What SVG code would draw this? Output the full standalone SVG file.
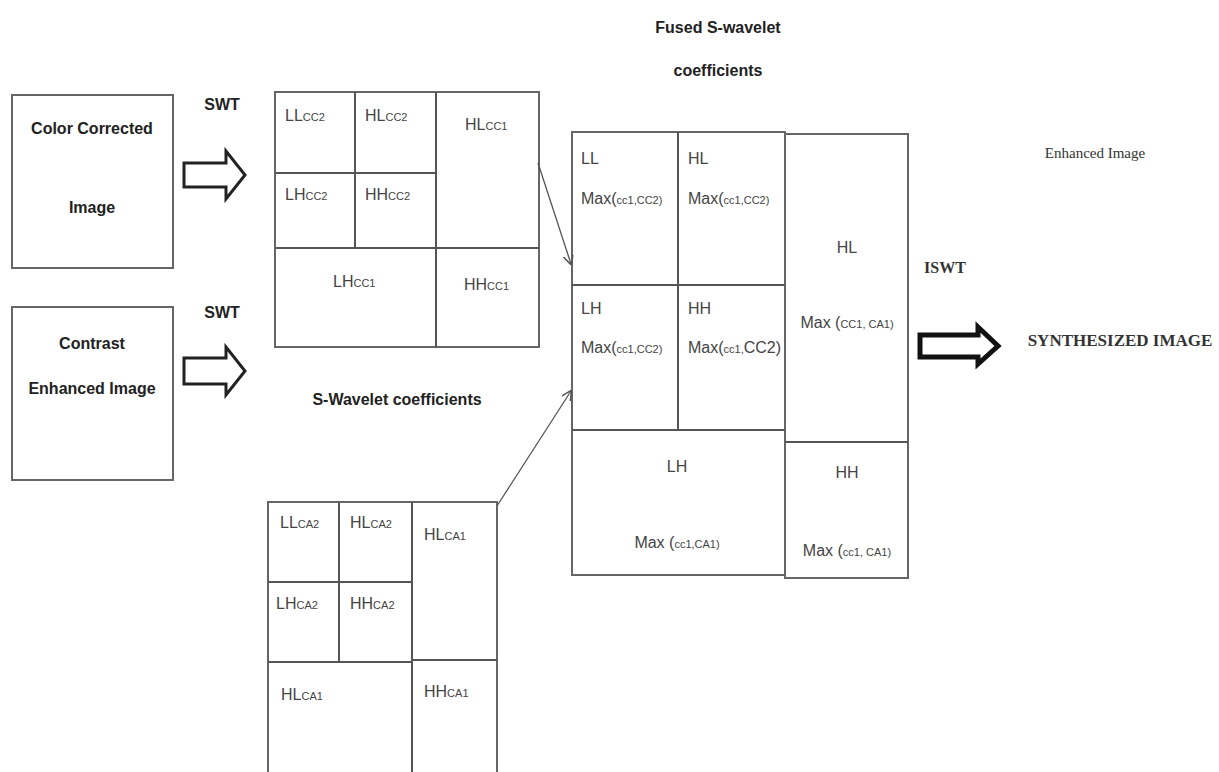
<svg xmlns="http://www.w3.org/2000/svg" width="1219" height="772" viewBox="0 0 1219 772">
<style>
.box{fill:#fff;stroke:#666;stroke-width:2}
.ln{stroke:#555;stroke-width:2;fill:none}
.t{font-family:"Liberation Sans",Arial,sans-serif;fill:#444;font-size:16px}
.s{font-size:11px}
.b{font-family:"Liberation Sans",Arial,sans-serif;font-weight:bold;fill:#222;font-size:16px}
.sf{font-family:"Liberation Serif","Times New Roman",serif;fill:#333}
.blk{fill:#fff;stroke:#222;stroke-width:3}
.conn{stroke:#555;stroke-width:1.3;fill:none}
</style>
<defs>
<marker id="ah" viewBox="0 0 10 10" refX="9" refY="5" markerWidth="8" markerHeight="8" orient="auto">
<path d="M0,0 L10,5 L0,10" fill="none" stroke="#555" stroke-width="1.5"/>
</marker>
</defs>
<rect width="1219" height="772" fill="#fff"/>

<g id="input-color">
<rect class="box" x="12" y="95" width="161" height="173"/>
<text class="b" x="92" y="134" text-anchor="middle">Color Corrected</text>
<text class="b" x="92" y="213" text-anchor="middle">Image</text>
</g>
<g id="input-contrast">
<rect class="box" x="12" y="307" width="161" height="173"/>
<text class="b" x="92" y="349" text-anchor="middle">Contrast</text>
<text class="b" x="92" y="394" text-anchor="middle">Enhanced Image</text>
</g>

<g id="swt1">
<text class="b" x="222" y="110" text-anchor="middle">SWT</text>
<path class="blk" d="M184,163 H226 V151 L245,175 L226,199 V187 H184 Z"/>
</g>
<g id="swt2">
<text class="b" x="222" y="318" text-anchor="middle">SWT</text>
<path class="blk" d="M184,358 H226 V347 L245,371 L226,395 V384 H184 Z"/>
</g>

<g id="grid-cc">
<rect class="box" x="275" y="92" width="264" height="255"/>
<path class="ln" d="M355,92 V248 M436,92 V347 M275,173 H436 M275,248 H539"/>
<text class="t" x="285" y="121">LL<tspan class="s">CC2</tspan></text>
<text class="t" x="365" y="121">HL<tspan class="s">CC2</tspan></text>
<text class="t" x="465" y="130">HL<tspan class="s">CC1</tspan></text>
<text class="t" x="285" y="200">LH<tspan class="s">CC2</tspan></text>
<text class="t" x="365" y="200">HH<tspan class="s">CC2</tspan></text>
<text class="t" x="333" y="287">LH<tspan class="s">CC1</tspan></text>
<text class="t" x="464" y="290">HH<tspan class="s">CC1</tspan></text>
</g>
<text class="b" x="397" y="405" text-anchor="middle">S-Wavelet coefficients</text>

<g id="grid-ca">
<rect class="box" x="268" y="502" width="229" height="275"/>
<path class="ln" d="M339,502 V662 M412,502 V777 M268,582 H412 M268,662 H412 M412,660 H497"/>
<text class="t" x="280" y="528">LL<tspan class="s">CA2</tspan></text>
<text class="t" x="350" y="528">HL<tspan class="s">CA2</tspan></text>
<text class="t" x="424" y="540">HL<tspan class="s">CA1</tspan></text>
<text class="t" x="276" y="609">LH<tspan class="s">CA2</tspan></text>
<text class="t" x="350" y="609">HH<tspan class="s">CA2</tspan></text>
<text class="t" x="281" y="700">HL<tspan class="s">CA1</tspan></text>
<text class="t" x="424" y="697">HH<tspan class="s">CA1</tspan></text>
</g>

<text class="b" x="718" y="33" text-anchor="middle">Fused S-wavelet</text>
<text class="b" x="718" y="76" text-anchor="middle">coefficients</text>

<g id="grid-fused">
<rect class="box" x="572" y="132" width="213" height="443"/>
<rect class="box" x="785" y="134" width="123" height="444"/>
<path class="ln" d="M678,132 V430 M572,285 H785 M572,430 H785 M785,442 H908"/>
<text class="t" x="581" y="164">LL</text>
<text class="t" x="581" y="204">Max(<tspan class="s">cc1,CC2)</tspan></text>
<text class="t" x="688" y="164">HL</text>
<text class="t" x="688" y="204">Max(<tspan class="s">cc1,CC2)</tspan></text>
<text class="t" x="581" y="314">LH</text>
<text class="t" x="581" y="353">Max(<tspan class="s">cc1,CC2)</tspan></text>
<text class="t" x="688" y="314">HH</text>
<text class="t" x="688" y="353">Max(<tspan class="s">cc1,</tspan>CC2)</text>
<text class="t" x="847" y="253" text-anchor="middle">HL</text>
<text class="t" x="847" y="328" text-anchor="middle">Max (<tspan class="s">CC1, CA1)</tspan></text>
<text class="t" x="677" y="472" text-anchor="middle">LH</text>
<text class="t" x="677" y="548" text-anchor="middle">Max (<tspan class="s">cc1,CA1)</tspan></text>
<text class="t" x="847" y="478" text-anchor="middle">HH</text>
<text class="t" x="847" y="556" text-anchor="middle">Max (<tspan class="s">cc1, CA1)</tspan></text>
</g>

<g id="connectors">
<line class="conn" x1="538" y1="163" x2="571" y2="264" marker-end="url(#ah)"/>
<line class="conn" x1="497" y1="506" x2="571" y2="391" marker-end="url(#ah)"/>
</g>

<g id="iswt">
<text class="sf" x="945" y="273" text-anchor="middle" font-weight="bold" font-size="16">ISWT</text>
<path d="M920,335 H978 V327 L998,346 L978,364 V357 H920 Z" fill="#fff" stroke="#111" stroke-width="5" stroke-linejoin="miter"/>
</g>
<text class="sf" x="1095" y="158" text-anchor="middle" font-size="15">Enhanced Image</text>
<text class="sf" x="1120" y="346" text-anchor="middle" font-weight="bold" font-size="17" fill="#222">SYNTHESIZED IMAGE</text>
</svg>
